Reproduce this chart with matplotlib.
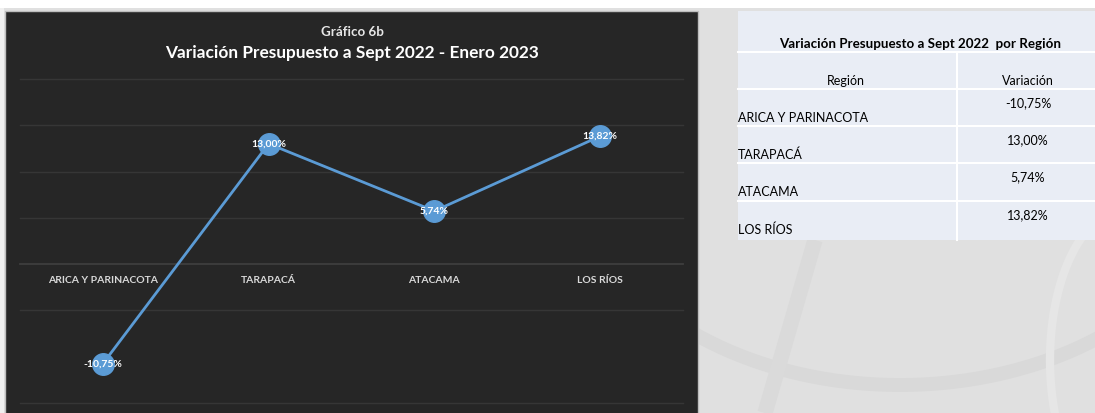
import matplotlib
matplotlib.use("Agg")
import matplotlib.pyplot as plt
import numpy as np
from matplotlib.patches import Rectangle

plt.rcParams['font.family'] = ['Lato', 'DejaVu Sans']

regions = ["ARICA Y PARINACOTA", "TARAPACÁ", "ATACAMA", "LOS RÍOS"]
variacion = [-10.75, 13.00, 5.74, 13.82]
grid_levels = [20, 15, 10, 5, 0, -5, -15]
chart_super = "Gráfico 6b"
chart_title = "Variación Presupuesto a Sept 2022 - Enero 2023"
table_title = "Variación Presupuesto a Sept 2022  por Región"
table_headers = ["Región", "Variación"]

W, H = 1095, 413
fig = plt.figure(figsize=(W / 100, H / 100), dpi=100)
fig.patch.set_facecolor("#e0e0e0")

# background layer in pixel coordinates
bg = fig.add_axes([0, 0, 1, 1], zorder=0)
bg.set_xlim(0, W); bg.set_ylim(H, 0); bg.axis("off")

# decorative swirls (right side, purely ornamental)
t = np.linspace(np.radians(20), np.radians(160), 100)
bg.plot(900 + 330 * np.cos(t), 150 + 235 * np.sin(t), color="#d9d9d9", lw=10, zorder=0)
t2 = np.linspace(np.radians(100), np.radians(260), 100)
bg.plot(1125 + 75 * np.cos(t2), 360 + 150 * np.sin(t2), color="#e6e6e6", lw=6, zorder=0)
bg.plot([765, 815], [413, 240], color="#dadada", lw=11, solid_capstyle="butt", zorder=0)

# top white strip and left edge
bg.add_patch(Rectangle((0, 0), W, 8, facecolor="white", edgecolor="none", zorder=1))
bg.add_patch(Rectangle((0, 8), 4, H, facecolor="#f0f0f0", edgecolor="none", zorder=1))
# dark chart panel
bg.add_patch(Rectangle((5, 11), 693, H, facecolor="#262626", edgecolor="#bdbdbd", linewidth=1, zorder=1))

# titles
bg.text(352, 32, chart_super, color="#e6e6e6", fontsize=9.6, fontweight="bold", ha="center", va="center", zorder=3)
bg.text(352, 53, chart_title, color="white", fontsize=12.4, fontweight="bold", ha="center", va="center", zorder=3)

# table
tx0, tx1, tcol = 738, 1095, 957
bg.add_patch(Rectangle((tx0, 11), tx1 - tx0, 229, facecolor="#e9edf5", edgecolor="none", zorder=1))
row_lines = [52, 89, 126, 163, 201]
for yl in row_lines:
    bg.plot([tx0, tx1], [yl, yl], color="white", lw=1.5, zorder=2)
bg.plot([tcol, tcol], [52, 240], color="white", lw=1.5, zorder=2)
bg.text(920, 44, table_title, color="black", fontsize=9.6, fontweight="bold", ha="center", va="center", zorder=3)
bg.text(846, 81, table_headers[0], color="black", fontsize=9, ha="center", va="center", zorder=3)
bg.text(1028, 81, table_headers[1], color="black", fontsize=9, ha="center", va="center", zorder=3)
row_tops = [89, 126, 163, 201]
for i, (r, v) in enumerate(zip(regions, variacion)):
    yt = row_tops[i]
    bg.text(738, yt + 29, r, color="black", fontsize=9, ha="left", va="center", zorder=3)
    bg.text(1028, yt + 14, f"{v:.2f}".replace(".", ",") + "%", color="black",
            fontsize=9, ha="center", va="center", zorder=3)

# main axes
x0, x1, ytop, ybot = 20, 683, 79, 403
ax = fig.add_axes([x0 / W, 1 - ybot / H, (x1 - x0) / W, (ybot - ytop) / H], zorder=2)
ax.set_facecolor("none")
ax.set_xlim(-0.5, len(regions) - 0.5)
ax.set_ylim(-15, 20)
for s in ax.spines.values():
    s.set_visible(False)
ax.set_xticks([]); ax.set_yticks([])
for g in grid_levels:
    ax.axhline(g, color="#3e3e3e" if g == 0 else "#363636", lw=1.3 if g == 0 else 1.0,
               zorder=1, clip_on=False)

xs = list(range(len(regions)))
ax.plot(xs, variacion, color="#5b9bd5", lw=2.0, marker="o", markersize=15.5,
        markerfacecolor="#5b9bd5", markeredgecolor="#5b9bd5", zorder=3, clip_on=False)
for x, v in zip(xs, variacion):
    lbl = f"{v:.2f}".replace(".", ",") + "%"
    ax.text(x, v, lbl, color="white", fontsize=7.5, fontweight="bold",
            ha="center", va="center", zorder=4)
for x, r in zip(xs, regions):
    ax.annotate(r, (x, 0), xytext=(0, -12), textcoords="offset points",
                color="#d9d9d9", fontsize=7.5, fontweight="bold", ha="center", va="center")

fig.savefig("out.png", dpi=100, facecolor=fig.get_facecolor())
